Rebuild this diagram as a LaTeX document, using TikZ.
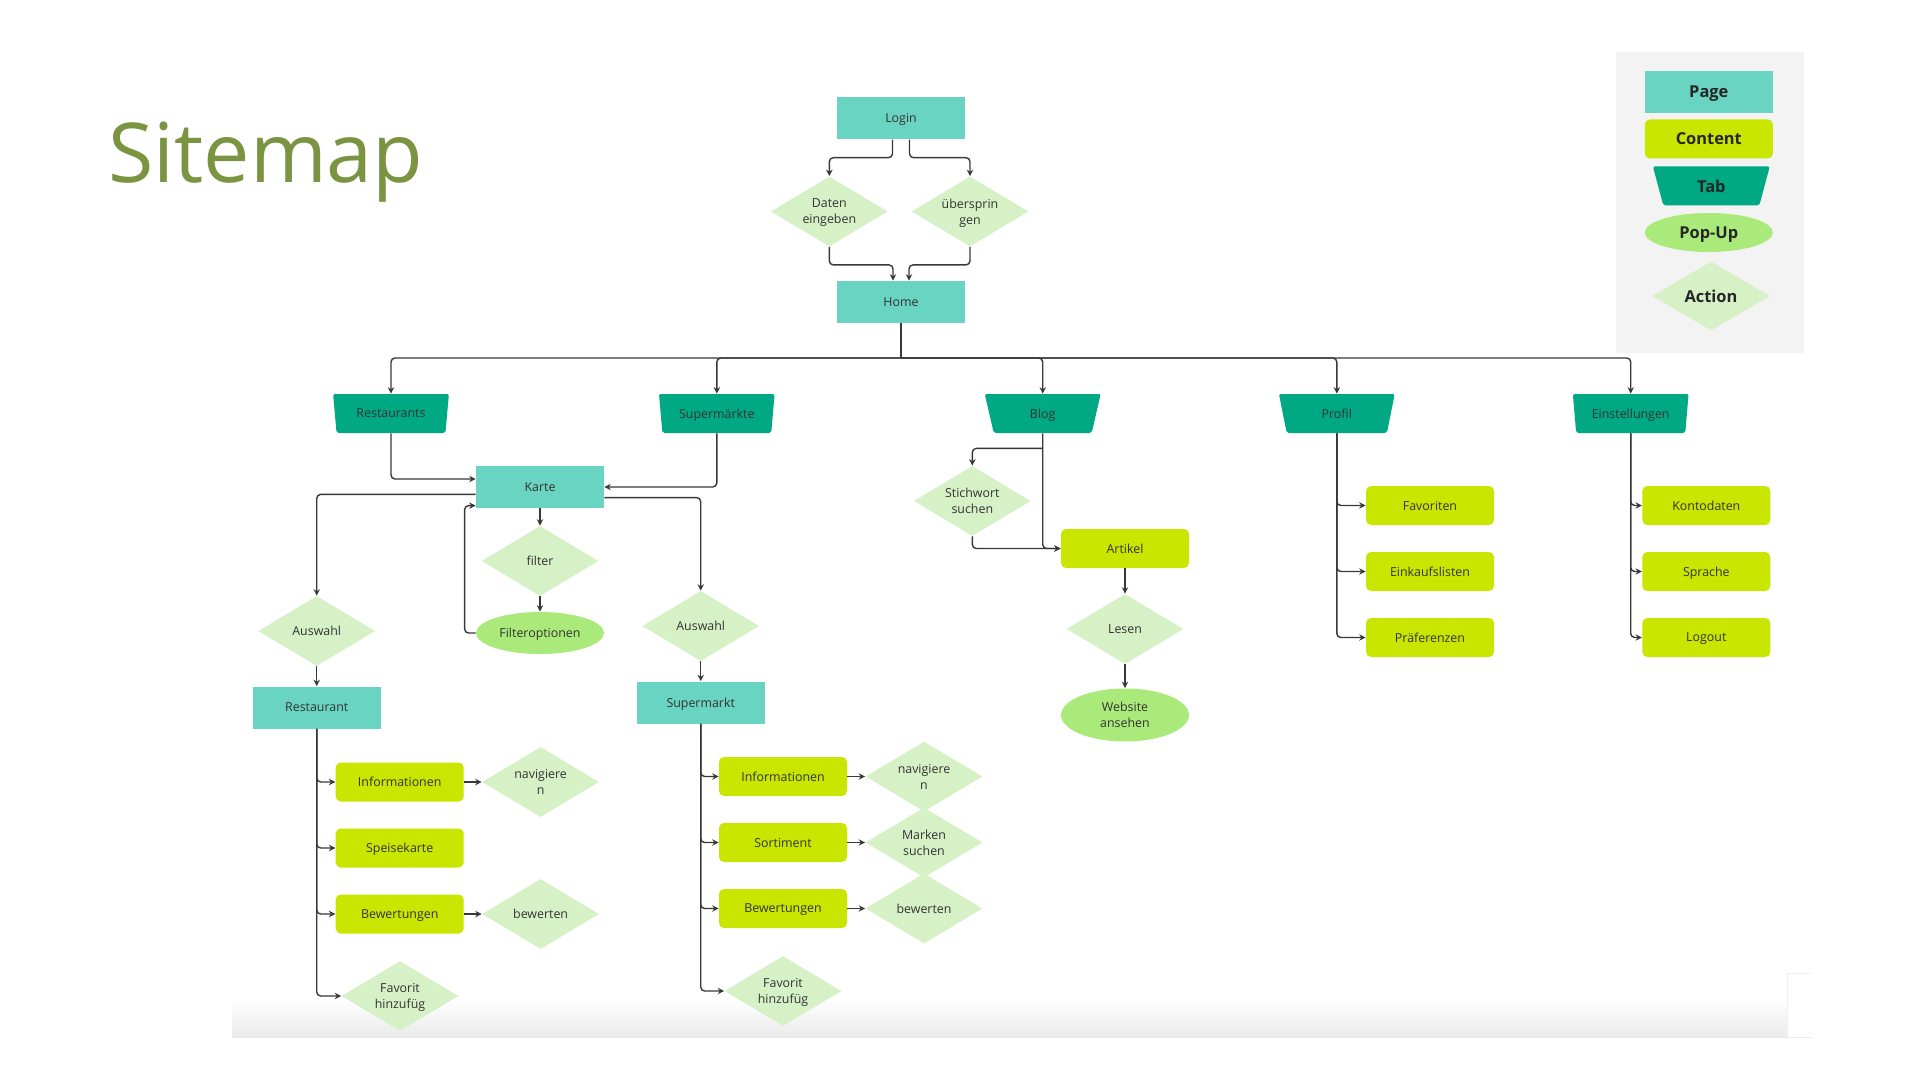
\documentclass[tikz,border=0pt]{standalone}
\usepackage{fontspec}
\setmainfont{Open Sans}
\usepackage{tikz}
\usetikzlibrary{arrows.meta,shapes.geometric,calc}

\definecolor{pagecol}{HTML}{6AD4C2}
\definecolor{contentcol}{HTML}{C8E600}
\definecolor{tabcol}{HTML}{00A884}
\definecolor{popupcol}{HTML}{AAEA7A}
\definecolor{actioncol}{HTML}{D7F1C7}
\definecolor{legendbg}{HTML}{F3F3F3}
\definecolor{titlecol}{HTML}{7A9442}
\definecolor{textcol}{HTML}{333333}
\definecolor{linecol}{HTML}{383838}

\begin{document}
\begin{tikzpicture}[x=0.5pt,y=-0.5pt,
		every node/.style={text=textcol,font=\fontsize{6.2}{8}\selectfont,align=center,inner sep=0pt,text depth=0pt},
		pagebox/.style={rectangle,fill=pagecol,minimum width=64pt,minimum height=21pt},
		contentbox/.style={rectangle,rounded corners=2.5pt,fill=contentcol,minimum width=64pt,minimum height=19.5pt},
		tabbox/.style={trapezium,trapezium left angle=104,trapezium right angle=104,trapezium stretches=true,
			rounded corners=1pt,fill=tabcol,minimum width=58pt,minimum height=19.5pt},
		popupbox/.style={ellipse,fill=popupcol,minimum width=64pt,minimum height=21pt},
		actionbox/.style={diamond,aspect=1.67,fill=actioncol,minimum width=58.5pt,minimum height=35pt},
		legendtext/.style={font=\bfseries\fontsize{8.2}{10}\selectfont,text=black!85},
		conn/.style={draw=linecol,line width=0.7pt,rounded corners=2pt,-{Stealth[length=3.2pt,width=3.2pt]}}
	]
	\useasboundingbox[fill=white] (0,0) rectangle (1920,1080);
	
	% screenshot shadow at the bottom
	\shade[top color=white,bottom color=black!8] (232,998) rectangle (1811,1037);
	\fill[white] (1787,973) rectangle (1811,1037);
	\draw[black!6] (1787,1037) -- (1787,973) -- (1811,973);
	
	\node[anchor=base west,text=titlecol,font=\fontsize{41.3}{48}\selectfont] (title) at (108,183) {Sitemap};
	
	% legend
	\node[fill=legendbg,minimum width=94pt,minimum height=150.5pt] (legend) at (1710,202.2) {};
	\node[pagebox,legendtext] (lpage) at (1708.8,92) {Page};
	\node[contentbox,legendtext] (lcontent) at (1708.8,139) {Content};
	\node[tabbox,legendtext,minimum width=58.5pt] (ltab) at (1711.3,186) {Tab};
	\node[popupbox,legendtext,minimum height=19.5pt] (lpopup) at (1708.8,232.5) {Pop-Up};
	\node[actionbox,legendtext,minimum width=59pt,minimum height=34.5pt] (laction) at (1711,296) {Action};
	
	% login and home
	\node[pagebox] (login) at (901,118.3) {Login};
	\node[actionbox] (daten) at (829.3,211.5) {Daten\\eingeben};
	\node[actionbox] (ueber) at (970,211.5) {übersprin\\gen};
	\node[pagebox] (home) at (901,302) {Home};
	\coordinate (bus) at (901,358);
	
	% tabs
	\node[tabbox] (restaurants) at (391,413.5) {Restaurants};
	\node[tabbox] (supermaerkte) at (716.8,413.5) {Supermärkte};
	\node[tabbox] (blog) at (1042.7,413.5) {Blog};
	\node[tabbox] (profil) at (1336.8,413.5) {Profil};
	\node[tabbox] (einstellungen) at (1630.7,413.5) {Einstellungen};
	
	% map
	\node[pagebox] (karte) at (540,487) {Karte};
	\node[actionbox] (filter) at (540,561) {filter};
	\node[popupbox] (filteroptionen) at (540,633) {Filteroptionen};
	\node[actionbox] (auswahlr) at (316.7,631) {Auswahl};
	\node[actionbox] (auswahls) at (700.7,626) {Auswahl};
	\node[pagebox] (restaurant) at (316.7,707.5) {Restaurant};
	\node[pagebox] (supermarkt) at (700.7,702.5) {Supermarkt};
	
	% restaurant
	\node[contentbox] (rinfo) at (399.7,782) {Informationen};
	\node[actionbox] (rnav) at (540.6,782) {navigiere\\n};
	\node[contentbox] (rkarte) at (399.7,848) {Speisekarte};
	\node[contentbox] (rbew) at (399.7,914) {Bewertungen};
	\node[actionbox] (rbewerten) at (540.6,914) {bewerten};
	\node[actionbox] (rfav) at (400,996) {Favorit\\hinzufüg};
	
	% supermarkt
	\node[contentbox] (sinfo) at (783,776.5) {Informationen};
	\node[actionbox] (snav) at (924,776.5) {navigiere\\n};
	\node[contentbox] (ssort) at (783,842.5) {Sortiment};
	\node[actionbox] (smarken) at (924,842.5) {Marken\\suchen};
	\node[contentbox] (sbew) at (783,908.5) {Bewertungen};
	\node[actionbox] (sbewerten) at (924,908.5) {bewerten};
	\node[actionbox] (sfav) at (783,991) {Favorit\\hinzufüg};
	
	% blog
	\node[actionbox] (stichwort) at (972.3,501) {Stichwort\\suchen};
	\node[contentbox] (artikel) at (1125,548.5) {Artikel};
	\node[actionbox] (lesen) at (1125,629) {Lesen};
	\node[popupbox,minimum height=26.5pt] (website) at (1125,715) {Website\\ansehen};
	
	% profil and einstellungen
	\node[contentbox] (favoriten) at (1430,505.5) {Favoriten};
	\node[contentbox] (einkauf) at (1430,571.5) {Einkaufslisten};
	\node[contentbox] (praef) at (1430,637.5) {Präferenzen};
	\node[contentbox] (konto) at (1706.3,505.5) {Kontodaten};
	\node[contentbox] (sprache) at (1706.3,571.5) {Sprache};
	\node[contentbox] (logout) at (1706.3,637.5) {Logout};
	
	% connectors
	\draw[conn] ([xshift=-4.25pt]login.south) -- ++(0,18) -| (daten.north);
	\draw[conn] ([xshift=4.25pt]login.south) -- ++(0,18) -| (ueber.north);
	\draw[conn] (daten.south) -- ++(0,18) -| ([xshift=-4pt]home.north);
	\draw[conn] (ueber.south) -- ++(0,18) -| ([xshift=4pt]home.north);
	\draw[conn,-] (home.south) -- (bus);
	\foreach \tabname in {restaurants,supermaerkte,blog,profil,einstellungen}
		\draw[conn] (bus) -| (\tabname.north);
	
	\draw[conn] (restaurants.south) |- ([yshift=4pt]karte.west);
	\draw[conn] (supermaerkte.south) |- (karte.east);
	\draw[conn] ([yshift=-3.7pt]karte.west) -| (auswahlr.north);
	\draw[conn] ([yshift=-5.3pt]karte.east) -| (auswahls.north);
	\draw[conn] (karte.south) -- (filter.north);
	\draw[conn] (filter.south) -- (filteroptionen.north);
	\draw[conn] (filteroptionen.west) -- ++(-11,0) |- ([yshift=-9.3pt]karte.west);
	\draw[conn] (auswahlr.south) -- (restaurant.north);
	\draw[conn] (auswahls.south) -- (supermarkt.north);
	
	\foreach \kid in {rinfo,rkarte,rbew,rfav}
		\draw[conn] (restaurant.south) |- (\kid.west);
	\draw[conn] (rinfo.east) -- (rnav.west);
	\draw[conn] (rbew.east) -- (rbewerten.west);
	
	\foreach \kid in {sinfo,ssort,sbew,sfav}
		\draw[conn] (supermarkt.south) |- (\kid.west);
	\draw[conn] (sinfo.east) -- (snav.west);
	\draw[conn] (ssort.east) -- (smarken.west);
	\draw[conn] (sbew.east) -- (sbewerten.west);
	
	\draw[conn] (blog.south) |- (artikel.west);
	\draw[conn] ([yshift=-7.5pt]blog.south) -| (stichwort.north);
	\draw[conn] (stichwort.south) |- (artikel.west);
	\draw[conn] (artikel.south) -- (lesen.north);
	\draw[conn] (lesen.south) -- (website.north);
	
	\foreach \kid in {favoriten,einkauf,praef}
		\draw[conn] (profil.south) |- (\kid.west);
	\foreach \kid in {konto,sprache,logout}
		\draw[conn] (einstellungen.south) |- (\kid.west);
\end{tikzpicture}
\end{document}
